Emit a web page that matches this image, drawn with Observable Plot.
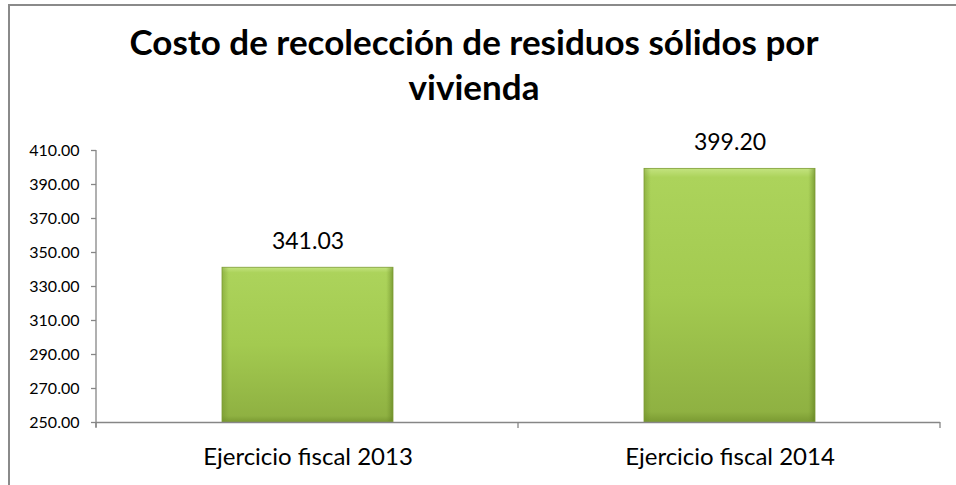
<!DOCTYPE html>
<html>
<head>
<meta charset="utf-8">
<script src="https://cdn.jsdelivr.net/npm/d3@7"></script>
<script src="https://cdn.jsdelivr.net/npm/@observablehq/plot@0.6"></script>
<style>
  html, body { margin: 0; padding: 0; background: #fff; }
  body { width: 956px; height: 485px; position: relative; overflow: hidden; font-family: Lato, "Open Sans", sans-serif; }
  #frame { position: absolute; left: 8px; top: 4px; width: 1000px; height: 600px; border-top: 2px solid #8a8a8a; border-left: 2px solid #8a8a8a; }
  #title { position: absolute; left: 0; top: 19px; width: 948px; text-align: center; font-weight: bold; font-size: 35px; line-height: 45px; color: #000; }
  #chart { position: absolute; left: 0; top: 125px; }
</style>
</head>
<body>
<div id="frame"></div>
<div id="title">Costo de recolección de residuos sólidos por<br>vivienda</div>
<div id="chart"></div>
<script>
const categories = ["Ejercicio fiscal 2013", "Ejercicio fiscal 2014"];
const values = [341.03, 399.20];
const yTicks = [250, 270, 290, 310, 330, 350, 370, 390, 410];

const data = categories.map((c, i) => ({category: c, value: values[i]}));
const axisColor = "#868686";

function axisLines(index, scales, values, dims) {
  const g = d3.create("svg:g").attr("stroke", axisColor).attr("stroke-width", 1.3);
  const x0 = dims.marginLeft, x1 = dims.width - dims.marginRight;
  const yb = dims.height - dims.marginBottom, yt = dims.marginTop;
  g.append("line").attr("x1", x0).attr("x2", x0).attr("y1", yt).attr("y2", yb + 5);
  const n = categories.length;
  for (let i = 0; i <= n; i++) {
    const xx = x0 + i * (x1 - x0) / n;
    g.append("line").attr("x1", xx).attr("x2", xx).attr("y1", yb).attr("y2", yb + 6);
  }
  return g.node();
}

const plot = Plot.plot({
  width: 956,
  height: 360,
  marginLeft: 96,
  marginRight: 16,
  marginTop: 25,
  marginBottom: 63,
  style: {fontFamily: "Lato, 'Open Sans', sans-serif", color: "#000", background: "transparent"},
  x: {domain: categories, paddingInner: 0.595, paddingOuter: 0.2975, label: null},
  y: {domain: [250, 410], label: null},
  marks: [
    Plot.barY(data, {x: "category", y1: 250, y2: "value", fill: "url(#barGrad)"}),
    Plot.barY(data, {x: "category", y1: 250, y2: "value", fill: "url(#bevelH)", stroke: "#7d9c34", strokeWidth: 0.8}),
    Plot.ruleY([250], {stroke: axisColor, strokeWidth: 1.3}),
    axisLines,
    Plot.axisY({ticks: yTicks, tickFormat: d => d.toFixed(2), tickSize: 5, tickPadding: 12, fontSize: 16, stroke: axisColor, strokeWidth: 1.3}),
    Plot.axisX({tickSize: 0, tickPadding: 25, fontSize: 24}),
    Plot.text(data, {x: "category", y: "value", text: d => d.value.toFixed(2), dy: -26, fontSize: 23, fill: "#000"})
  ]
});

const ns = "http://www.w3.org/2000/svg";
const defs = document.createElementNS(ns, "defs");
defs.innerHTML = `
  <linearGradient id="barGrad" x1="0" y1="0" x2="0" y2="1">
    <stop offset="0" stop-color="#c3e37f"/>
    <stop offset="0.035" stop-color="#acd35b"/>
    <stop offset="0.5" stop-color="#a3ca50"/>
    <stop offset="0.96" stop-color="#8fb142"/>
    <stop offset="1" stop-color="#7a9a32"/>
  </linearGradient>
  <linearGradient id="bevelH" x1="0" y1="0" x2="1" y2="0">
    <stop offset="0" stop-color="#6e8e28" stop-opacity="0.45"/>
    <stop offset="0.04" stop-color="#6e8e28" stop-opacity="0"/>
    <stop offset="0.96" stop-color="#6e8e28" stop-opacity="0"/>
    <stop offset="1" stop-color="#55731a" stop-opacity="0.55"/>
  </linearGradient>`;
plot.insertBefore(defs, plot.firstChild);
document.getElementById("chart").appendChild(plot);
</script>
</body>
</html>
